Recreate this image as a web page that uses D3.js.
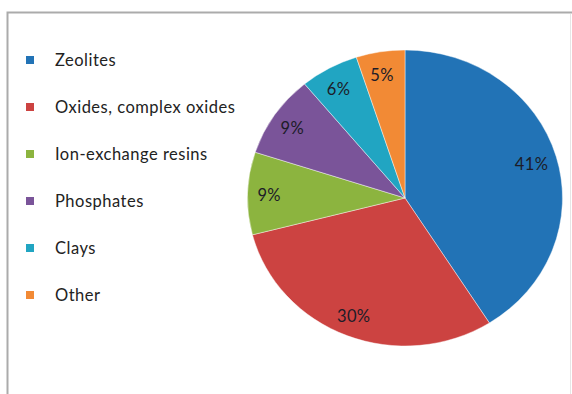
<!DOCTYPE html>
<html>
<head>
<meta charset="utf-8">
<script src="https://cdn.jsdelivr.net/npm/d3@7"></script>
<style>
  html, body { margin: 0; padding: 0; background: #fff; }
  svg { display: block; }
</style>
</head>
<body>
<svg id="chart" width="572" height="394"></svg>
<script>
// Share of sorbent types
const categories = ["Zeolites", "Oxides, complex oxides", "Ion-exchange resins", "Phosphates", "Clays", "Other"];
const shares = [41, 30, 9, 9, 6, 5];
const colors = ["#2273b6", "#cc4341", "#8cb43f", "#7a5499", "#21a5c2", "#f28a35"];

const svg = d3.select("#chart");
const W = 572, H = 394;
const font = "Lato, 'Open Sans', sans-serif";

// chart frame
svg.append("path")
  .attr("d", `M7.5,${H + 2} V12.5 H${W + 2}`)
  .attr("fill", "none").attr("stroke", "#ababab").attr("stroke-width", 2);
svg.append("line")
  .attr("x1", 570.5).attr("x2", 570.5).attr("y1", 14).attr("y2", H)
  .attr("stroke", "#e6e6e6").attr("stroke-width", 1);

// legend
const color = d3.scaleOrdinal().domain(categories).range(colors);
const legendY = d3.scalePoint().domain(categories).range([60, 295]);
const legend = svg.append("g");
const item = legend.selectAll("g").data(categories).join("g")
  .attr("transform", d => `translate(0,${legendY(d)})`);
item.append("rect")
  .attr("x", 26).attr("y", -4).attr("width", 8).attr("height", 8)
  .attr("fill", d => color(d));
item.append("text")
  .attr("x", 55).attr("y", 0).attr("dy", "0.35em")
  .attr("font-family", font).attr("font-size", 16.5)
  .attr("letter-spacing", 0.5)
  .attr("fill", "#222")
  .text(d => d);

// pie (slightly wider than tall)
const cx = 405, cy = 198, rx = 157.5, ry = 148;
const pie = d3.pie().sort(null).value(d => d.v);
const arcs = pie(categories.map((c, i) => ({ c, v: shares[i] })));
const arc = d3.arc().innerRadius(0).outerRadius(ry);
const labelArc = d3.arc().innerRadius(ry * 0.85).outerRadius(ry * 0.85);

const pieG = svg.append("g")
  .attr("transform", `translate(${cx},${cy}) scale(${rx / ry},1)`);
pieG.selectAll("path").data(arcs).join("path")
  .attr("d", arc)
  .attr("fill", d => color(d.data.c))
  .attr("stroke", "#fff").attr("stroke-width", 0.6)
  .attr("stroke-opacity", 0.7);

svg.append("g").selectAll("text").data(arcs).join("text")
  .attr("x", d => cx + labelArc.centroid(d)[0] * rx / ry - 2)
  .attr("y", d => cy + labelArc.centroid(d)[1] + 1)
  .attr("dy", "0.35em")
  .attr("text-anchor", "middle")
  .attr("font-family", font).attr("font-size", 16.5)
  .attr("letter-spacing", 0.4)
  .attr("fill", "#1c1c28")
  .text(d => d.data.v + "%");
</script>
</body>
</html>
